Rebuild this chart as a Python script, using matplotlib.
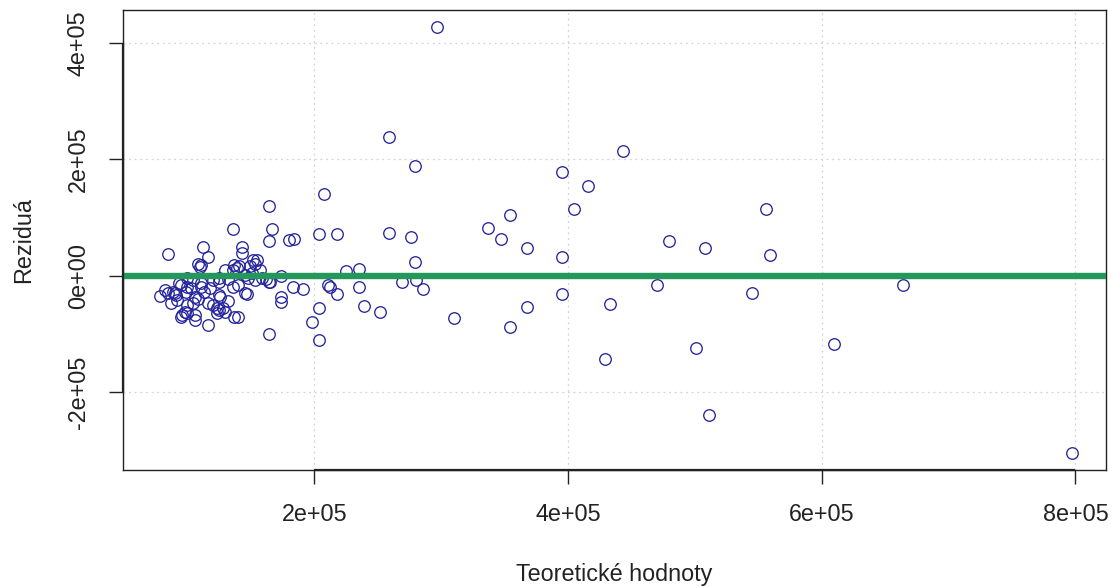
import matplotlib
matplotlib.use("Agg")
import matplotlib.pyplot as plt
import numpy as np

plt.rcParams['font.family'] = ['Liberation Sans', 'DejaVu Sans']

# Fitted (theoretical) values and residuals
fitted = [
    297000, 259000, 279000, 443000, 395000, 416000, 405000, 556000, 354000, 337000,
    347000, 368000, 395000, 480000, 508000, 559000, 470000, 545000, 395000, 433000,
    368000, 354000, 501000, 429000, 511000, 310000, 664000, 610000, 797000, 208000,
    164000, 167000, 164000, 180000, 184000, 204000, 218000, 259000, 276000, 279000,
    225000, 235000, 269000, 280000, 286000, 183000, 191000, 174000, 174000, 211000,
    212000, 218000, 235000, 204000, 239000, 252000, 198000, 164000, 204000, 136000,
    85000, 112000, 116000, 143000, 143000, 116000, 147000, 78000, 108000, 111000,
    110000, 93000, 95000, 89000, 90000, 91000, 100000, 103000, 111000, 111000,
    125000, 125000, 106000, 108000, 116000, 125000, 123000, 125000, 98000, 100000,
    96000, 95000, 106000, 106000, 100000, 104000, 85000, 137000, 139000, 136000,
    141000, 152000, 153000, 149000, 151000, 130000, 157000, 145000, 165000, 136000,
    145000, 126000, 132000, 120000, 128000, 123000, 130000, 137000, 140000, 174000,
    164000, 153000, 162000, 120000, 100000, 104000, 99000, 113000, 118000, 132000,
    159000, 140000, 148000, 155000, 82000, 87000, 92000,
]
residuals = [
    427000, 238000, 188000, 215000, 178000, 155000, 114000, 114000, 104000, 82000,
    63000, 47000, 33000, 60000, 48000, 35000, -15000, -30000, -32000, -48000,
    -53000, -88000, -124000, -143000, -239000, -73000, -15000, -117000, -305000, 140000,
    119000, 80000, 59000, 61000, 63000, 71000, 71000, 73000, 66000, 24000,
    9000, 11000, -10000, -7000, -23000, -20000, -23000, -37000, -45000, -16000,
    -20000, -32000, -20000, -55000, -52000, -63000, -79000, -100000, -110000, 81000,
    38000, 49000, 32000, 50000, 39000, -85000, -32000, -35000, 21000, 19000,
    15000, -13000, -16000, -27000, -30000, -33000, -19000, -21000, -13000, -19000,
    -4000, -10000, -36000, -39000, -47000, -33000, -56000, -59000, -62000, -64000,
    -67000, -71000, -67000, -76000, -50000, -47000, -30000, 19000, 13000, 10000,
    16000, 27000, 21000, 16000, 4000, 10000, 10000, 1000, -10000, -19000,
    -30000, -36000, -44000, -50000, -56000, -64000, -62000, -70000, -70000, 0,
    -10000, -7000, -6000, -7000, -4000, -7000, -28000, -28000, -21000, -5000,
    -4000, -16000, -4000, 27000, -24000, -47000, -42000,
]

x_ticks = [200000, 400000, 600000, 800000]
x_labels = ["2e+05", "4e+05", "6e+05", "8e+05"]
y_ticks = [-200000, 0, 200000, 400000]
y_labels = ["-2e+05", "0e+00", "2e+05", "4e+05"]

x_title = "Teoretické hodnoty"
y_title = "Reziduá"

W, H = 1114, 587
fig = plt.figure(figsize=(W / 100, H / 100), dpi=100)
ax = fig.add_axes([123 / W, 1 - 470 / H, (1106 - 123) / W, (470 - 10) / H])

xlim = (49200, 824100)
ylim = (-333400, 456300)
ax.set_xlim(*xlim)
ax.set_ylim(*ylim)

# grid
for xt in x_ticks:
    ax.axvline(xt, color='#d3d3d3', lw=0.9, ls=(0, (1.5, 3)), zorder=0)
for yt in y_ticks:
    ax.axhline(yt, color='#d3d3d3', lw=0.9, ls=(0, (1.5, 3)), zorder=0)

ax.plot(fitted, residuals, linestyle='none', marker='o', markersize=8.3,
        markerfacecolor='none', markeredgecolor='#24249c', markeredgewidth=0.95,
        zorder=2)

ax.axhline(0, color='#23985a', lw=4.6, zorder=3)

ax.set_xticks(x_ticks)
ax.set_xticklabels(x_labels)
ax.set_yticks(y_ticks)
ax.set_yticklabels(y_labels, rotation=90, va='center')

ax.tick_params(axis='both', length=10, width=1.0, color='#222222',
               labelsize=16.8, labelcolor='#222222', pad=14)

for s in ax.spines.values():
    s.set_linewidth(1.0)
    s.set_color('#222222')

# R-style axis lines spanning the tick range
ax.plot([x_ticks[0], x_ticks[-1]], [ylim[0], ylim[0]], color='#222222', lw=1.6,
        clip_on=False, zorder=4, solid_capstyle='butt')
ax.plot([xlim[0], xlim[0]], [y_ticks[0], y_ticks[-1]], color='#222222', lw=1.6,
        clip_on=False, zorder=4, solid_capstyle='butt')

fig.text(614.5 / W, 1 - 575 / H, x_title, ha='center', va='center',
         fontsize=16.8, color='#222222')
fig.text(24 / W, 1 - 240 / H, y_title, ha='center', va='center',
         rotation=90, fontsize=16.8, color='#222222')

fig.savefig("out.png", dpi=100)
